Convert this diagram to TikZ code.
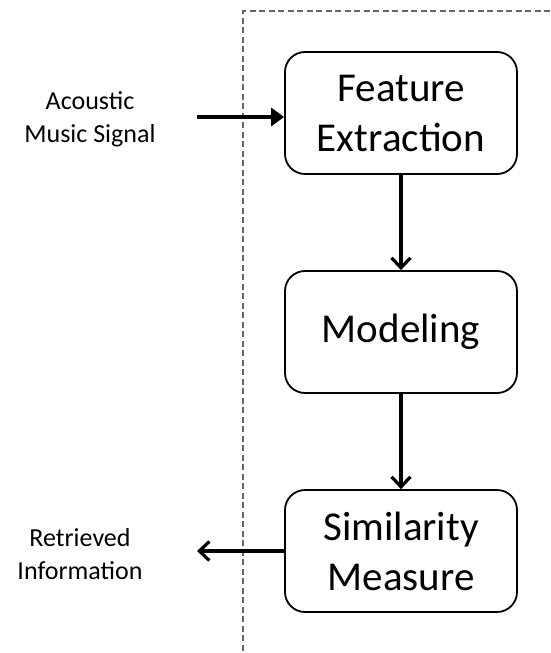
\documentclass[tikz,border=0pt]{standalone}
\usepackage{fontspec}
\setmainfont{Carlito}
\usetikzlibrary{arrows.meta}
\begin{document}
\begin{tikzpicture}[x=1pt,y=-1pt,
  stage/.style={draw=black, line width=1.8pt, rounded corners=20pt, fill=white,
    minimum width=232pt, minimum height=122pt, align=center,
    font=\fontsize{41}{50}\selectfont},
  sidelabel/.style={align=center, font=\fontsize{26}{33}\selectfont},
  flow/.style={line width=3.6pt, -{Straight Barb[length=10pt,width=19pt,line width=3.2pt]}},
  feed/.style={line width=3.6pt, -{Triangle[length=13pt,width=18pt]}},
  frame/.style={draw=black!60, line width=1.3pt, dash pattern=on 6pt off 3.5pt}
]
\useasboundingbox (0,0) rectangle (550,653);
% system frame: only the left and top edges fall inside the page
\draw[frame] (243,660) -- (243,11) -- (560,11);

\node[stage] (fe) at (401,113) {Feature\\Extraction};
\node[stage] (mo) at (401,332) {Modeling};
\node[stage] (sm) at (401,551) {Similarity\\Measure};

\node[sidelabel] (in) at (90,119) {Acoustic\\Music Signal};
\node[sidelabel] (out) at (80,554) {Retrieved\\Information};

\coordinate (inA) at (197,117);
\coordinate (outA) at (197,551);

\draw[feed] (inA) -- (fe.west |- inA);
\draw[flow] (fe.south) -- (mo.north);
\draw[flow] (mo.south) -- (sm.north);
\draw[flow] (sm.west) -- (outA);
\end{tikzpicture}
\end{document}
